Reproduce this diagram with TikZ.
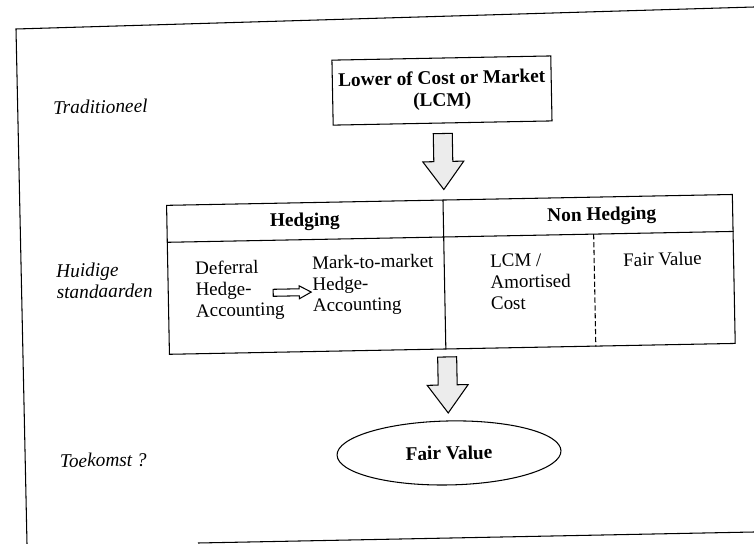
\documentclass[tikz,border=0pt]{standalone}
\usepackage{fontspec}
\setmainfont{Liberation Serif}
\usetikzlibrary{shapes.geometric,positioning,calc}

\begin{document}
\begin{tikzpicture}[x=0.02cm,y=-0.02cm,line width=0.6pt,
  font=\fontsize{10.8}{12.1}\selectfont,
  box/.style={draw,rectangle,minimum width=4.32cm,minimum height=1.3cm,align=center,
    font=\fontsize{11}{12.4}\selectfont\bfseries},
  cell/.style={inner sep=0pt,align=left,anchor=north west},
  head/.style={font=\fontsize{11}{12}\selectfont\bfseries},
  lbl/.style={inner sep=0pt,anchor=west,align=left,font=\fontsize{11}{12.2}\selectfont\itshape},
  blockfill/.style={draw,fill=gray!15,line join=miter},
  downarrow/.pic={\draw[blockfill] (-9.5,-28) -- (-9.5,0) -- (-20.5,0) -- (0,28) -- (20.5,0) -- (9.5,0) -- (9.5,-28) -- cycle;},
  rightarrow/.pic={\draw[fill=white,line join=miter] (-19,-3.5) -- (7,-3.5) -- (7,-6.5) -- (19,0) -- (7,6.5) -- (7,3.5) -- (-19,3.5) -- cycle;}]
  \useasboundingbox (0,0) rectangle (754,544);
  \draw (754,7) -- (16,29) -- (27,544);
  \draw (198,543) -- (754,532);
  \begin{scope}[rotate around={1.1:(445,280)},transform shape]
    \node[lbl] (trad) at (56,100) {Traditioneel};
    \node[lbl] (huid) at (56,274) {Huidige\\standaarden};
    \node[lbl] (toek) at (56,453.5) {Toekomst ?};
    \node[box] (lcm) at (445.6,90.5) {Lower of Cost or Market\\(LCM)};
    \node[draw,minimum width=11.32cm,minimum height=2.98cm,inner sep=0pt] (tbl) at (451,274.5) {};
    \draw ($(tbl.north west)+(0,37.5)$) -- ($(tbl.north east)+(0,37.5)$);
    \draw ($(tbl.north west)+(277,0)$) -- ($(tbl.south west)+(277,0)$);
    \draw[dash pattern=on 3pt off 1.5pt] ($(tbl.north west)+(427,37.5)$) -- ($(tbl.south west)+(427,0)$);
    \node[head] (hedg) at (306,219) {Hedging};
    \node[head] (nonhedg) at (603,219) {Non Hedging};
    \node[cell] (defer) at (195,256) {Deferral\\Hedge-\\Accounting};
    \node[cell] (mtm) at (312,253) {Mark-to-market\\Hedge-\\Accounting};
    \node[cell] (lcmam) at (490,255) {LCM /\\Amortised\\Cost};
    \node[cell] (fvcell) at (623,256) {Fair Value};
    \pic at ($(defer.west)+(97,3)$) {rightarrow};
    \node[draw,ellipse,minimum width=4.48cm,minimum height=1.28cm,inner sep=0pt,
      font=\fontsize{11}{12}\selectfont\bfseries] (fv) at (445.7,453) {Fair Value};
    \pic at ($(lcm.south)!0.5!(lcm.south |- tbl.north)$) {downarrow};
    \pic at ($(fv.north)!0.5!(fv.north |- tbl.south)$) {downarrow};
  \end{scope}
\end{tikzpicture}
\end{document}
